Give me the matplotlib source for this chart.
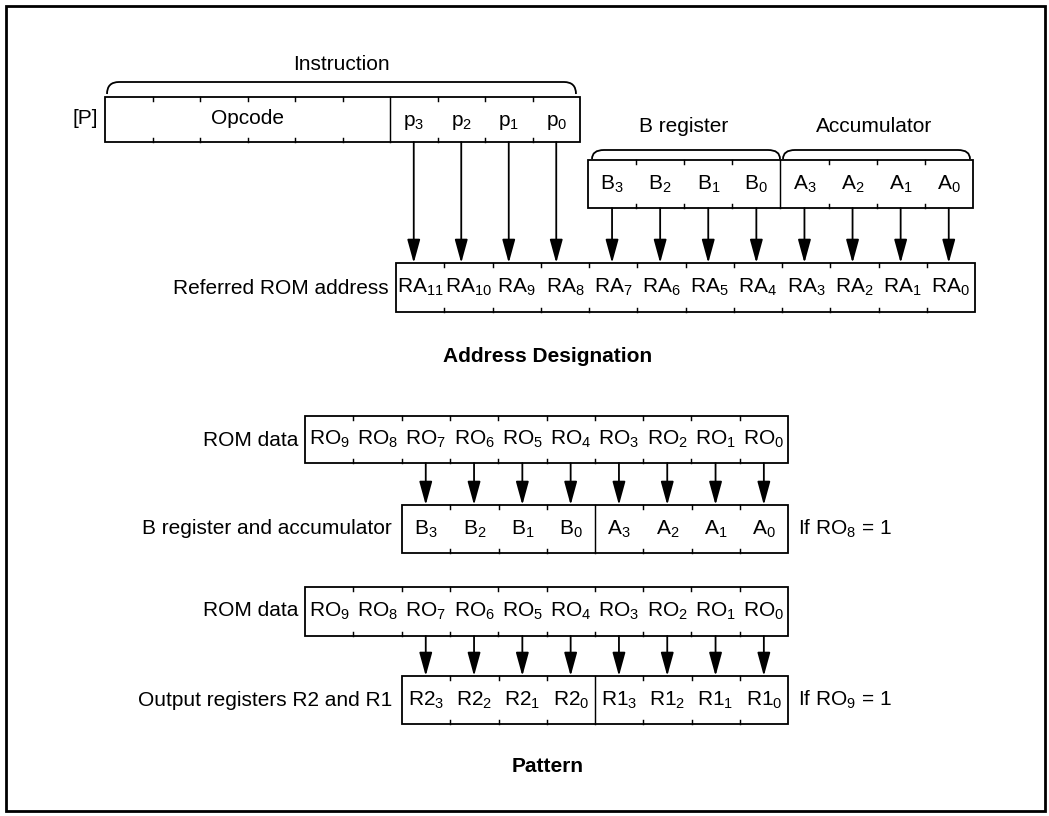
import matplotlib
matplotlib.use('Agg')
from matplotlib import pyplot as plt
from matplotlib.patches import Rectangle, PathPatch
from matplotlib.path import Path

plt.rcParams['font.family'] = ['Liberation Sans', 'DejaVu Sans']
plt.rcParams['mathtext.fontset'] = 'custom'
plt.rcParams['mathtext.rm'] = 'Liberation Sans'
plt.rcParams['mathtext.default'] = 'regular'

# Labels of the register cells
opcode_cells = ['', '', '', '', '', '']
p_cells = ['p$_3$', 'p$_2$', 'p$_1$', 'p$_0$']
b_cells = ['B$_3$', 'B$_2$', 'B$_1$', 'B$_0$']
a_cells = ['A$_3$', 'A$_2$', 'A$_1$', 'A$_0$']
ra_cells = ['RA$_{11}$', 'RA$_{10}$', 'RA$_9$', 'RA$_8$', 'RA$_7$', 'RA$_6$',
            'RA$_5$', 'RA$_4$', 'RA$_3$', 'RA$_2$', 'RA$_1$', 'RA$_0$']
ro_cells = ['RO$_9$', 'RO$_8$', 'RO$_7$', 'RO$_6$', 'RO$_5$', 'RO$_4$',
            'RO$_3$', 'RO$_2$', 'RO$_1$', 'RO$_0$']
r2_cells = ['R2$_3$', 'R2$_2$', 'R2$_1$', 'R2$_0$']
r1_cells = ['R1$_3$', 'R1$_2$', 'R1$_1$', 'R1$_0$']

FS = 15
LW = 1.3

fig = plt.figure(figsize=(10.49, 8.16), dpi=100)
ax = fig.add_axes([0, 0, 1, 1])
ax.set_xlim(0, 1049)
ax.set_ylim(816, 0)
ax.axis('off')

# outer frame
ax.add_patch(Rectangle((6, 6), 1039, 805, fill=False, lw=2.0, ec='black'))


def draw_register(x0, y0, cw, h, labels, dividers=(), label_y=None):
    # box with tick marks between cells, full lines at dividers
    n = len(labels)
    ax.add_patch(Rectangle((x0, y0), cw * n, h, fill=False, lw=LW, ec='black'))
    for i in range(1, n):
        x = x0 + cw * i
        if i in dividers:
            ax.plot([x, x], [y0, y0 + h], color='black', lw=LW * 0.8)
        else:
            ax.plot([x, x], [y0, y0 + 4], color='black', lw=LW * 0.8)
            ax.plot([x, x], [y0 + h - 4, y0 + h], color='black', lw=LW * 0.8)
    ly = y0 + h / 2 if label_y is None else label_y
    centers = []
    for i, lab in enumerate(labels):
        cx = x0 + cw * (i + 0.5)
        centers.append(cx)
        if lab:
            ax.text(cx, ly, lab, fontsize=FS, ha='center', va='center')
    return centers


def brace(x0, x1, ytop, ybot, r=12):
    verts = [(x0, ybot), (x0, ytop), (x0 + r, ytop), (x1 - r, ytop),
             (x1, ytop), (x1, ybot)]
    codes = [Path.MOVETO, Path.CURVE3, Path.CURVE3, Path.LINETO,
             Path.CURVE3, Path.CURVE3]
    ax.add_patch(PathPatch(Path(verts, codes), fill=False, lw=LW, ec='black'))


def arrow(x, y0, y1):
    ax.annotate('', xy=(x, y1), xytext=(x, y0),
                arrowprops=dict(arrowstyle='-|>,head_length=0.8,head_width=0.22',
                                mutation_scale=18, lw=LW, color='black',
                                shrinkA=0, shrinkB=0))


# ---- Address designation ----
top_c = draw_register(105, 97, 47.5, 45, opcode_cells + p_cells,
                      dividers=(6,), label_y=122)
ax.text(248, 119, 'Opcode', fontsize=FS, ha='center', va='center')
ax.text(85, 119, '[P]', fontsize=FS, ha='center', va='center')
brace(107, 576, 82, 94)
ax.text(341, 65, 'Instruction', fontsize=FS, ha='center', va='center')

ba_c = draw_register(588, 160, 48.1, 48, b_cells + a_cells, dividers=(4,))
brace(592, 780, 150, 159)
brace(783, 970, 150, 159)
ax.text(684, 126, 'B register', fontsize=FS, ha='center', va='center')
ax.text(874, 126, 'Accumulator', fontsize=FS, ha='center', va='center')

ra_c = draw_register(396, 263, 48.25, 49, ra_cells)
ax.text(389, 288, 'Referred ROM address', fontsize=FS, ha='right', va='center')

for cx in top_c[6:]:
    arrow(cx, 142, 263)
for cx in ba_c:
    arrow(cx, 208, 263)

ax.text(548, 357, 'Address Designation', fontsize=FS, fontweight='bold',
        ha='center', va='center')

# ---- Pattern ----
ro1_c = draw_register(305, 416, 48.3, 47, ro_cells)
ax.text(298, 440, 'ROM data', fontsize=FS, ha='right', va='center')
draw_register(402, 505, 48.25, 48, b_cells + a_cells, dividers=(4,))
ax.text(392, 529, 'B register and accumulator', fontsize=FS, ha='right', va='center')
ax.text(798, 529, 'If RO$_8$ = 1', fontsize=FS, ha='left', va='center')
for cx in ro1_c[2:]:
    arrow(cx, 463, 505)

ro2_c = draw_register(305, 587, 48.3, 49, ro_cells)
ax.text(298, 611, 'ROM data', fontsize=FS, ha='right', va='center')
draw_register(402, 676, 48.25, 48, r2_cells + r1_cells, dividers=(4,))
ax.text(392, 700, 'Output registers R2 and R1', fontsize=FS, ha='right', va='center')
ax.text(798, 700, 'If RO$_9$ = 1', fontsize=FS, ha='left', va='center')
for cx in ro2_c[2:]:
    arrow(cx, 636, 676)

ax.text(548, 767, 'Pattern', fontsize=FS, fontweight='bold',
        ha='center', va='center')

fig.savefig('out.png', dpi=100)
